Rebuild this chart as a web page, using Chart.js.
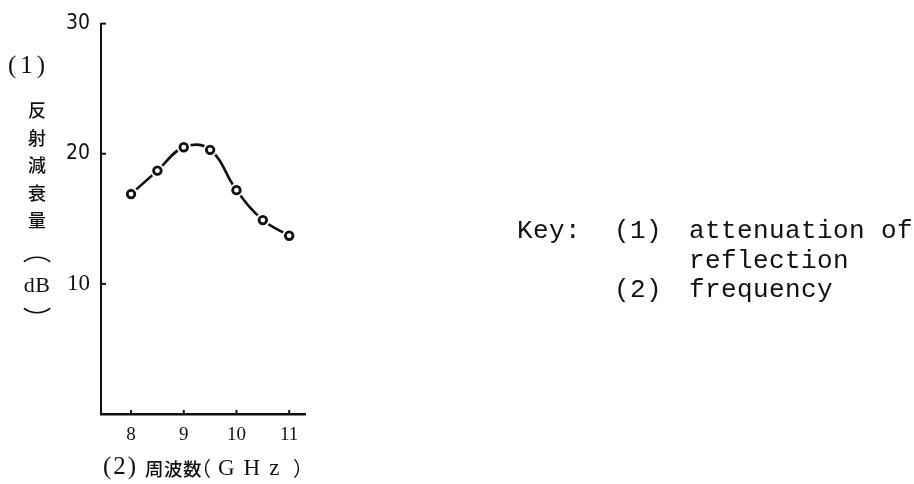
<!DOCTYPE html>
<html>
<head>
<meta charset="utf-8">
<script src="https://cdn.jsdelivr.net/npm/chart.js@4.4.1/dist/chart.umd.min.js"></script>
<style>
  html, body { margin: 0; padding: 0; background: #fff; }
  #wrap { position: relative; width: 914px; height: 484px; overflow: hidden; }
  #chart { position: absolute; left: 0; top: 0; }
  .lbl { position: absolute; color: #111; white-space: nowrap; }
  .serif { font-family: "Liberation Serif", "DejaVu Serif", serif; }
  .cjk { font-family: "Noto Sans CJK JP", sans-serif; font-weight: 500; }
  .mono { font-family: "Liberation Mono", "DejaVu Sans Mono", monospace; font-size: 26px; letter-spacing: 0.4px; line-height: 29.5px; }
</style>
</head>
<body>
<div id="wrap">
  <canvas id="chart" width="914" height="484"></canvas>

  <!-- y axis title, stacked vertically -->
  <div class="lbl serif" style="left:8px; top:51px; font-size:25px; letter-spacing:4px;">(1)</div>
  <div class="lbl cjk" style="left:27px; top:96px; font-size:18px; line-height:27.5px; text-align:center; width:20px;">反<br>射<br>減<br>衰<br>量</div>
  <div class="lbl cjk" style="left:25px; top:238px; font-size:22px; font-weight:400; width:24px; text-align:center; line-height:24px; transform:scale(1.3,1);">︵</div>
  <div class="lbl serif" style="left:21px; top:273px; font-size:22px; width:32px; text-align:center; letter-spacing:0.5px; line-height:24px;">dB</div>
  <div class="lbl cjk" style="left:25px; top:304px; font-size:22px; font-weight:400; width:24px; text-align:center; line-height:24px; transform:scale(1.3,1);">︶</div>

  <!-- x axis title -->
  <div class="lbl serif" style="left:103px; top:453px; font-size:25px; letter-spacing:2px; line-height:26px;">(2)</div>
  <div class="lbl cjk" style="left:145px; top:455px; font-size:18.5px; letter-spacing:0.5px; line-height:26px;">周波数</div>
  <div class="lbl cjk" style="left:191px; top:455px; font-size:20px; font-weight:400; line-height:26px;">（</div>
  <div class="lbl serif" style="left:218px; top:455px; font-size:23px; letter-spacing:9px; line-height:26px;">GHz</div>
  <div class="lbl cjk" style="left:293px; top:455px; font-size:20px; font-weight:400; line-height:26px;">）</div>

  <!-- key -->
  <div class="lbl mono" style="left:517px; top:217px;">Key:</div>
  <div class="lbl mono" style="left:614px; top:217px;">(1)<br><br>(2)</div>
  <div class="lbl mono" style="left:689px; top:217px;">attenuation of<br>reflection<br>frequency</div>
</div>
<script>
// frequency (GHz) vs attenuation of reflection (dB)
const freqs = [8, 8.5, 9, 9.5, 10, 10.5, 11];
const atten = [16.9, 18.7, 20.5, 20.3, 17.2, 14.9, 13.7];
const xTicks = [8, 9, 10, 11];
const yTicks = [10, 20, 30];

const pts = freqs.map((f, i) => ({ x: f, y: atten[i] }));

// short tick marks pointing into the plot
const inwardTicks = {
    id: 'inwardTicks',
    afterDraw(chart) {
        const ctx = chart.ctx;
        const { x, y } = chart.scales;
        const area = chart.chartArea;
        ctx.save();
        ctx.strokeStyle = '#111';
        ctx.lineWidth = 2;
        for (let v of yTicks) {
            const py = y.getPixelForValue(v);
            ctx.beginPath();
            ctx.moveTo(area.left, py);
            ctx.lineTo(area.left + 5, py);
            ctx.stroke();
        }
        for (let v of xTicks) {
            const px = x.getPixelForValue(v);
            ctx.beginPath();
            ctx.moveTo(px, area.bottom);
            ctx.lineTo(px, area.bottom - 4);
            ctx.stroke();
        }
        ctx.restore();
    }
};

new Chart(document.getElementById('chart').getContext('2d'), {
    type: 'line',
    data: {
        datasets: [
            {
                data: pts,
                borderColor: '#111',
                borderWidth: 2.6,
                pointRadius: 0,
                tension: 0.4,
                fill: false,
                order: 3
            },
            {
                // white halo so the line stops short of each marker
                data: pts,
                showLine: false,
                pointRadius: 7,
                pointBackgroundColor: '#fff',
                pointBorderWidth: 0,
                order: 2
            },
            {
                data: pts,
                showLine: false,
                pointRadius: 3.8,
                pointBackgroundColor: '#fff',
                pointBorderColor: '#111',
                pointBorderWidth: 2.8,
                order: 1
            }
        ]
    },
    options: {
        responsive: false,
        animation: false,
        devicePixelRatio: 1,
        layout: { padding: { left: 0, top: 20, right: 609, bottom: 0 } },
        plugins: { legend: { display: false }, tooltip: { enabled: false } },
        scales: {
            x: {
                type: 'linear',
                min: 7.43,
                max: 11.3,
                afterBuildTicks: (scale) => { scale.ticks = xTicks.map(v => ({ value: v })); },
                afterFit: (scale) => { scale.height = 70; },
                grid: { display: false, drawTicks: false },
                border: { display: true, color: '#111', width: 2.6 },
                ticks: {
                    padding: 10,
                    color: '#111',
                    font: { family: '"Liberation Serif", serif', size: 19 }
                }
            },
            y: {
                min: 0,
                max: 30,
                afterBuildTicks: (scale) => { scale.ticks = yTicks.map(v => ({ value: v })); },
                afterFit: (scale) => { scale.width = 101; },
                grid: { display: false, drawTicks: false },
                border: { display: true, color: '#111', width: 2 },
                ticks: {
                    padding: 11,
                    color: '#111',
                    font: (c) => c.tick && c.tick.value === 10
                        ? { family: '"Liberation Serif", serif', size: 23 }
                        : { family: '"Liberation Sans Narrow", "DejaVu Sans Condensed", sans-serif', size: 21 }
                }
            }
        }
    },
    plugins: [inwardTicks]
});
</script>
</body>
</html>
